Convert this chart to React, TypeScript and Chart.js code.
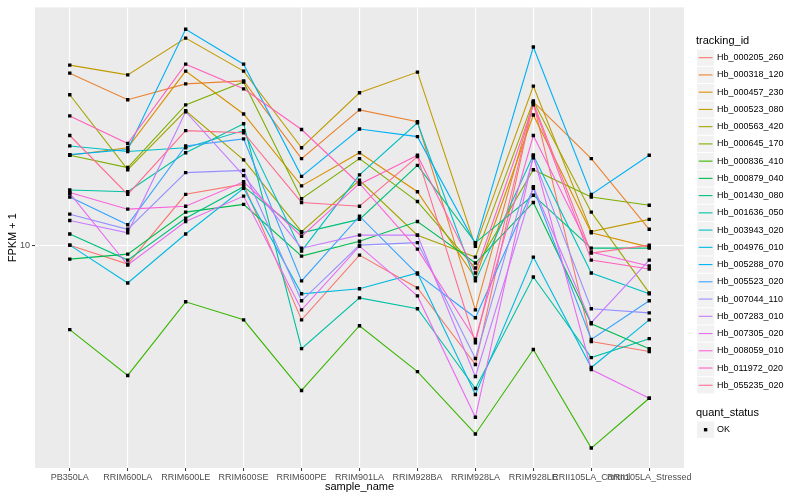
import React, { useEffect, useRef } from "react";
import { Chart, registerables } from "chart.js";

Chart.register(...registerables);

const FONT = "'Liberation Sans', Arial, Helvetica, sans-serif";

const categories = [
  "PB350LA", "RRIM600LA", "RRIM600LE", "RRIM600SE", "RRIM600PE", "RRIM901LA",
  "RRIM928BA", "RRIM928LA", "RRIM928LE", "RRII105LA_Control", "RRII105LA_Stressed",
];

const trackingIds = [
  "Hb_000205_260", "Hb_000318_120", "Hb_000457_230", "Hb_000523_080", "Hb_000563_420",
  "Hb_000645_170", "Hb_000836_410", "Hb_000879_040", "Hb_001430_080", "Hb_001636_050",
  "Hb_003943_020", "Hb_004976_010", "Hb_005288_070", "Hb_005523_020", "Hb_007044_110",
  "Hb_007283_010", "Hb_007305_020", "Hb_008059_010", "Hb_011972_020", "Hb_055235_020",
];

const seriesColors = [
  "#F8766D", "#EA8331", "#D89000", "#C09B00", "#A3A500", "#7CAE00", "#39B600", "#00BB4E",
  "#00BF7D", "#00C1A3", "#00BFC4", "#00BAE0", "#00B0F6", "#35A2FF", "#9590FF", "#C77CFF",
  "#E76BF3", "#FA62DB", "#FF62BC", "#FF6C91",
];

// FPKM + 1 values per sample (same order as categories)
const hb000205_260 = [10.0, 8.64, 14.8, 16.0, 5.62, 9.26, 7.19, 3.98, 30.0, 4.75, 4.40];
const hb000318_120 = [37.7, 30.7, 34.7, 35.5, 19.5, 28.4, 25.9, 6.07, 30.2, 19.5, 11.3];
const hb000457_230 = [20.0, 21.2, 38.3, 27.5, 15.8, 20.4, 15.1, 7.76, 27.3, 11.0, 9.85];
const hb000523_080 = [40.1, 37.2, 49.4, 38.3, 21.2, 32.4, 38.0, 9.92, 34.1, 11.1, 12.2];
const hb000563_420 = [31.9, 17.9, 28.2, 19.3, 11.1, 16.5, 10.8, 9.12, 30.4, 12.9, 6.92];
const hb000645_170 = [20.0, 18.2, 29.5, 35.2, 14.3, 19.5, 14.0, 8.38, 17.9, 14.5, 13.6];
const hb000836_410 = [5.21, 3.66, 6.46, 5.62, 3.26, 5.37, 3.77, 2.33, 4.47, 2.09, 3.07];
const hb000879_040 = [8.98, 9.33, 12.9, 13.7, 9.19, 10.3, 12.0, 8.71, 13.9, 5.45, 4.50];
const hb001430_080 = [10.9, 8.91, 12.3, 15.7, 11.0, 12.2, 18.5, 10.2, 14.7, 9.77, 9.77];
const hb001636_050 = [15.3, 15.1, 20.4, 25.5, 4.50, 6.66, 6.12, 3.31, 7.82, 4.20, 4.86];
const hb003943_020 = [21.5, 20.6, 21.2, 24.2, 9.55, 17.2, 25.7, 7.59, 20.0, 8.07, 6.87];
const hb004976_010 = [10.0, 7.47, 10.9, 15.5, 6.87, 7.14, 8.07, 3.16, 9.12, 3.89, 5.62];
const hb005288_070 = [20.1, 20.9, 52.9, 40.4, 17.0, 24.5, 23.1, 10.1, 46.1, 14.8, 20.0];
const hb005523_020 = [14.5, 11.7, 21.5, 22.7, 7.59, 12.5, 8.00, 5.71, 15.5, 4.83, 6.51];
const hb007044_110 = [12.7, 11.3, 17.5, 17.8, 6.51, 10.0, 10.2, 4.17, 19.6, 6.12, 5.93];
const hb007283_010 = [12.1, 11.0, 28.0, 17.1, 9.77, 10.8, 10.8, 3.63, 15.7, 5.50, 8.91];
const hb007305_020 = [14.9, 8.58, 12.0, 14.6, 6.07, 9.92, 6.76, 2.65, 20.0, 3.83, 3.07];
const hb008059_010 = [15.0, 13.2, 13.5, 16.3, 10.7, 16.1, 9.70, 4.83, 23.3, 9.48, 8.51];
const hb011972_020 = [27.1, 21.9, 40.4, 33.4, 24.4, 16.0, 20.0, 8.07, 29.5, 8.91, 8.32];
const hb055235_020 = [23.3, 14.8, 24.2, 23.8, 13.9, 13.5, 19.8, 4.71, 30.0, 9.40, 10.0];

const seriesValues = [
  hb000205_260, hb000318_120, hb000457_230, hb000523_080, hb000563_420,
  hb000645_170, hb000836_410, hb000879_040, hb001430_080, hb001636_050,
  hb003943_020, hb004976_010, hb005288_070, hb005523_020, hb007044_110,
  hb007283_010, hb007305_020, hb008059_010, hb011972_020, hb055235_020,
];

const yTickValues = [10];
const yTickLabels = ["10"];
const yAxisMin = 1.792;
const yAxisMax = 62.6;
const quantStatusLevels = ["OK"];

const panelBackground = {
  id: "panelBackground",
  beforeDraw(chart: any) {
    const { ctx, chartArea } = chart;
    ctx.save();
    ctx.fillStyle = "#EBEBEB";
    ctx.fillRect(chartArea.left, chartArea.top, chartArea.right - chartArea.left, chartArea.bottom - chartArea.top);
    ctx.restore();
  },
};

const ggLegend = {
  id: "ggLegend",
  afterDraw(chart: any) {
    const ctx = chart.ctx;
    ctx.save();
    ctx.textBaseline = "middle";
    ctx.textAlign = "left";
    ctx.fillStyle = "#000000";
    ctx.font = `11px ${FONT}`;
    ctx.fillText("tracking_id", 696, 41);
    const step = 17.24;
    trackingIds.forEach((id, i) => {
      const cy = 57.7 + i * step;
      ctx.fillStyle = "#F2F2F2";
      ctx.fillRect(697, cy - 8.1, 17.2, 16.2);
      ctx.strokeStyle = seriesColors[i];
      ctx.lineWidth = 1.1;
      ctx.beginPath();
      ctx.moveTo(698.7, cy);
      ctx.lineTo(712.5, cy);
      ctx.stroke();
      ctx.fillStyle = "#000000";
      ctx.font = `9px ${FONT}`;
      ctx.fillText(id, 717, cy);
    });
    ctx.font = `11px ${FONT}`;
    ctx.fillStyle = "#000000";
    ctx.fillText("quant_status", 696, 413);
    quantStatusLevels.forEach((lvl, i) => {
      const cy = 429.7 + i * step;
      ctx.fillStyle = "#F2F2F2";
      ctx.fillRect(697, cy - 8.1, 17.2, 16.2);
      ctx.fillStyle = "#000000";
      ctx.fillRect(703.9, cy - 1.7, 3.4, 3.4);
      ctx.font = `9px ${FONT}`;
      ctx.fillText(lvl, 717, cy);
    });
    ctx.restore();
  },
};

export default function App() {
  const ref = useRef<HTMLCanvasElement>(null);

  useEffect(() => {
    const canvas = ref.current;
    if (!canvas) return;
    Chart.defaults.font.family = FONT;

    const lineSets: any[] = seriesValues.map((vals, i) => ({
      type: "line",
      label: trackingIds[i],
      data: vals.map((v, j) => ({ x: j, y: v })),
      borderColor: seriesColors[i],
      backgroundColor: seriesColors[i],
      borderWidth: 1.1,
      pointRadius: 0,
      fill: false,
      tension: 0,
      order: seriesValues.length - i,
    }));

    const pointSet: any = {
      type: "scatter",
      label: "OK",
      data: seriesValues.flatMap((vals) => vals.map((v, j) => ({ x: j, y: v }))),
      pointStyle: "rect",
      pointRadius: 2.4,
      backgroundColor: "#000000",
      borderColor: "#000000",
      borderWidth: 0,
      showLine: false,
      order: 0,
    };

    const chart = new Chart(canvas, {
      type: "line",
      data: { datasets: [...lineSets, pointSet] },
      options: {
        responsive: false,
        maintainAspectRatio: false,
        animation: false,
        events: [],
        layout: { padding: { left: 0, top: 5, right: 116, bottom: 0 } },
        plugins: {
          legend: { display: false },
          tooltip: { enabled: false },
        },
        scales: {
          x: {
            type: "linear",
            min: -0.6,
            max: categories.length - 1 + 0.6,
            afterBuildTicks: (s: any) => {
              s.ticks = categories.map((_, i) => ({ value: i }));
            },
            afterFit: (s: any) => {
              s.height = 32;
            },
            grid: {
              color: "#FFFFFF",
              lineWidth: 1.1,
              drawTicks: true,
              tickLength: 3,
              tickColor: "#333333",
              tickWidth: 1,
            },
            border: { display: false },
            ticks: {
              autoSkip: false,
              maxRotation: 0,
              minRotation: 0,
              padding: 1,
              color: "#4D4D4D",
              font: { size: 9, family: FONT },
              callback: (v: any) => categories[v as number] ?? "",
            },
            title: {
              display: true,
              text: "sample_name",
              color: "#000000",
              font: { size: 11, family: FONT },
              padding: { top: 0, bottom: 6 },
            },
          },
          y: {
            type: "logarithmic",
            min: yAxisMin,
            max: yAxisMax,
            afterBuildTicks: (s: any) => {
              s.ticks = yTickValues.map((v) => ({ value: v }));
            },
            afterFit: (s: any) => {
              s.width = 35;
            },
            grid: {
              color: "#FFFFFF",
              lineWidth: 1.1,
              drawTicks: true,
              tickLength: 3,
              tickColor: "#333333",
              tickWidth: 1,
            },
            border: { display: false },
            ticks: {
              padding: 2,
              color: "#4D4D4D",
              font: { size: 9, family: FONT },
              callback: (v: any) => {
                const k = yTickValues.indexOf(Number(v));
                return k >= 0 ? yTickLabels[k] : "";
              },
            },
            title: {
              display: true,
              text: "FPKM + 1",
              color: "#000000",
              font: { size: 11, family: FONT },
              padding: { top: 6, bottom: 0 },
            },
          },
        },
      } as any,
      plugins: [panelBackground, ggLegend],
    });

    return () => chart.destroy();
  }, []);

  return (
    <div style={{ position: "absolute", left: 0, top: 0, width: 800, height: 500, background: "#FFFFFF" }}>
      <canvas ref={ref} width={800} height={500} style={{ display: "block", width: 800, height: 500 }} />
    </div>
  );
}
